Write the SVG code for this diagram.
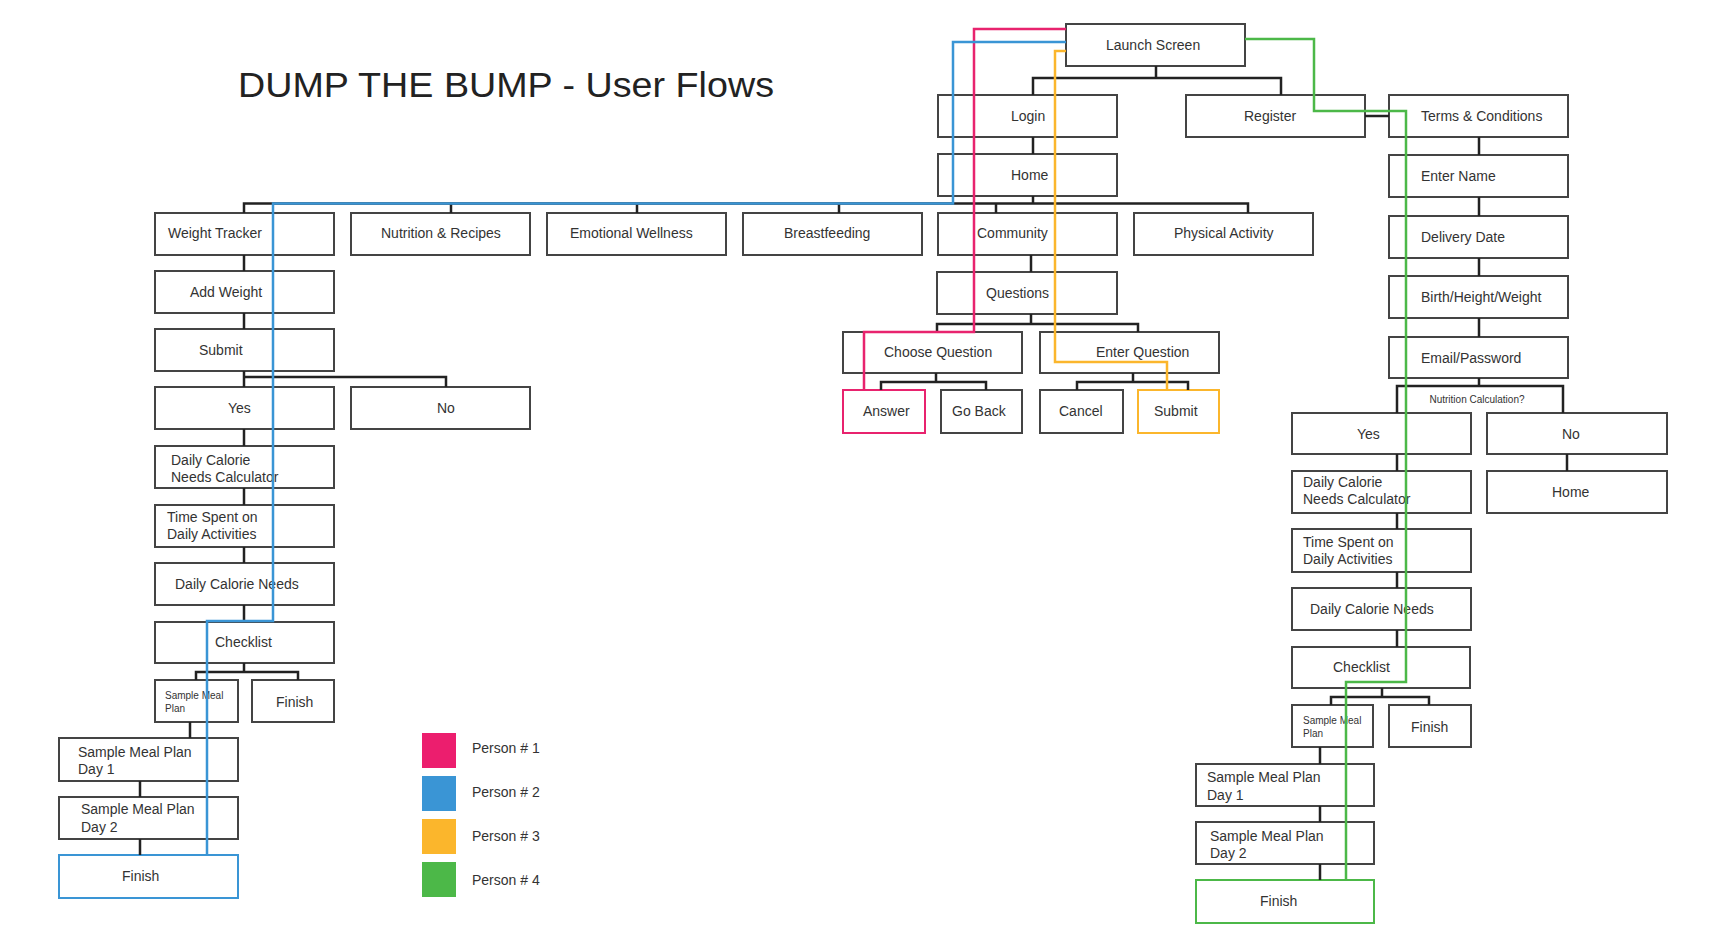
<svg xmlns="http://www.w3.org/2000/svg" width="1725" height="948" viewBox="0 0 1725 948">
<style>
.box{fill:#fff;stroke:#444;stroke-width:2}
.t{font-family:"Liberation Sans",Arial,sans-serif;font-size:14px;fill:#333}
.s{font-family:"Liberation Sans",Arial,sans-serif;font-size:10px;fill:#333}
.c{fill:none;stroke:#222;stroke-width:2.5}
.f{fill:none;stroke-width:2.5}
.p1{stroke:#e8236e}.p2{stroke:#3a95d5}.p3{stroke:#fbb62c}.p4{stroke:#4cb848}
</style>
<rect width="1725" height="948" fill="#fff"/>
<text x="238" y="97" font-family="Liberation Sans,Arial,sans-serif" font-size="35" fill="#222" textLength="536" lengthAdjust="spacingAndGlyphs">DUMP THE BUMP - User Flows</text>

<g id="nodes">
<g id="launch"><rect class="box" x="1066" y="24" width="179" height="42"/><text class="t" x="1106" y="50">Launch Screen</text></g>
<g id="login"><rect class="box" x="938" y="95" width="179" height="42"/><text class="t" x="1011" y="121">Login</text></g>
<g id="register"><rect class="box" x="1186" y="95" width="179" height="42"/><text class="t" x="1244" y="121">Register</text></g>
<g id="home"><rect class="box" x="938" y="154" width="179" height="42"/><text class="t" x="1011" y="180">Home</text></g>
<g id="weight"><rect class="box" x="155" y="213" width="179" height="42"/><text class="t" x="168" y="238">Weight Tracker</text></g>
<g id="nutrition"><rect class="box" x="351" y="213" width="179" height="42"/><text class="t" x="381" y="238">Nutrition &amp; Recipes</text></g>
<g id="emotional"><rect class="box" x="547" y="213" width="179" height="42"/><text class="t" x="570" y="238">Emotional Wellness</text></g>
<g id="breast"><rect class="box" x="743" y="213" width="179" height="42"/><text class="t" x="784" y="238">Breastfeeding</text></g>
<g id="community"><rect class="box" x="938" y="213" width="179" height="42"/><text class="t" x="977" y="238">Community</text></g>
<g id="physical"><rect class="box" x="1134" y="213" width="179" height="42"/><text class="t" x="1174" y="238">Physical Activity</text></g>
<g id="questions"><rect class="box" x="937" y="272" width="180" height="42"/><text class="t" x="986" y="298">Questions</text></g>
<g id="choose"><rect class="box" x="843" y="332" width="179" height="41"/><text class="t" x="884" y="357">Choose Question</text></g>
<g id="enterq"><rect class="box" x="1040" y="332" width="179" height="41"/><text class="t" x="1096" y="357">Enter Question</text></g>
<g id="answer"><rect class="box p1" x="843" y="390" width="82" height="43"/><text class="t" x="863" y="416">Answer</text></g>
<g id="goback"><rect class="box" x="941" y="390" width="81" height="43"/><text class="t" x="952" y="416">Go Back</text></g>
<g id="cancel"><rect class="box" x="1040" y="390" width="83" height="43"/><text class="t" x="1059" y="416">Cancel</text></g>
<g id="submitq"><rect class="box p3" x="1138" y="390" width="81" height="43"/><text class="t" x="1154" y="416">Submit</text></g>

<g id="addweight"><rect class="box" x="155" y="271" width="179" height="42"/><text class="t" x="190" y="297">Add Weight</text></g>
<g id="submitw"><rect class="box" x="155" y="329" width="179" height="42"/><text class="t" x="199" y="355">Submit</text></g>
<g id="yesL"><rect class="box" x="155" y="387" width="179" height="42"/><text class="t" x="228" y="413">Yes</text></g>
<g id="noL"><rect class="box" x="351" y="387" width="179" height="42"/><text class="t" x="437" y="413">No</text></g>
<g id="dcncL"><rect class="box" x="155" y="446" width="179" height="42"/><text class="t" x="171" y="465">Daily Calorie</text><text class="t" x="171" y="482">Needs Calculator</text></g>
<g id="timeL"><rect class="box" x="155" y="505" width="179" height="42"/><text class="t" x="167" y="522">Time Spent on</text><text class="t" x="167" y="539">Daily Activities</text></g>
<g id="dcnL"><rect class="box" x="155" y="563" width="179" height="42"/><text class="t" x="175" y="589">Daily Calorie Needs</text></g>
<g id="checkL"><rect class="box" x="155" y="622" width="179" height="41"/><text class="t" x="215" y="647">Checklist</text></g>
<g id="smpL"><rect class="box" x="155" y="680" width="83" height="42"/><text class="s" x="165" y="699">Sample Meal</text><text class="s" x="165" y="712">Plan</text></g>
<g id="finishSmallL"><rect class="box" x="252" y="680" width="82" height="42"/><text class="t" x="276" y="707">Finish</text></g>
<g id="day1L"><rect class="box" x="59" y="738" width="179" height="43"/><text class="t" x="78" y="757">Sample Meal Plan</text><text class="t" x="78" y="774">Day 1</text></g>
<g id="day2L"><rect class="box" x="59" y="797" width="179" height="42"/><text class="t" x="81" y="814">Sample Meal Plan</text><text class="t" x="81" y="832">Day 2</text></g>
<g id="finishL"><rect class="box p2" x="59" y="855" width="179" height="43"/><text class="t" x="122" y="881">Finish</text></g>

<g id="terms"><rect class="box" x="1389" y="95" width="179" height="42"/><text class="t" x="1421" y="121">Terms &amp; Conditions</text></g>
<g id="name"><rect class="box" x="1389" y="155" width="179" height="42"/><text class="t" x="1421" y="181">Enter Name</text></g>
<g id="delivery"><rect class="box" x="1389" y="216" width="179" height="42"/><text class="t" x="1421" y="242">Delivery Date</text></g>
<g id="birth"><rect class="box" x="1389" y="276" width="179" height="42"/><text class="t" x="1421" y="302">Birth/Height/Weight</text></g>
<g id="email"><rect class="box" x="1389" y="337" width="179" height="41"/><text class="t" x="1421" y="363">Email/Password</text></g>
<g id="yesR"><rect class="box" x="1292" y="413" width="179" height="41"/><text class="t" x="1357" y="439">Yes</text></g>
<g id="noR"><rect class="box" x="1487" y="413" width="180" height="41"/><text class="t" x="1562" y="439">No</text></g>
<g id="dcncR"><rect class="box" x="1292" y="471" width="179" height="42"/><text class="t" x="1303" y="487">Daily Calorie</text><text class="t" x="1303" y="504">Needs Calculator</text></g>
<g id="homeR"><rect class="box" x="1487" y="471" width="180" height="42"/><text class="t" x="1552" y="497">Home</text></g>
<g id="timeR"><rect class="box" x="1292" y="529" width="179" height="43"/><text class="t" x="1303" y="547">Time Spent on</text><text class="t" x="1303" y="564">Daily Activities</text></g>
<g id="dcnR"><rect class="box" x="1292" y="588" width="179" height="42"/><text class="t" x="1310" y="614">Daily Calorie Needs</text></g>
<g id="checkR"><rect class="box" x="1292" y="647" width="178" height="41"/><text class="t" x="1333" y="672">Checklist</text></g>
<g id="smpR"><rect class="box" x="1292" y="705" width="81" height="42"/><text class="s" x="1303" y="724">Sample Meal</text><text class="s" x="1303" y="737">Plan</text></g>
<g id="finishSmallR"><rect class="box" x="1389" y="705" width="82" height="42"/><text class="t" x="1411" y="732">Finish</text></g>
<g id="day1R"><rect class="box" x="1196" y="764" width="178" height="42"/><text class="t" x="1207" y="782">Sample Meal Plan</text><text class="t" x="1207" y="800">Day 1</text></g>
<g id="day2R"><rect class="box" x="1196" y="822" width="178" height="42"/><text class="t" x="1210" y="841">Sample Meal Plan</text><text class="t" x="1210" y="858">Day 2</text></g>
<g id="finishR"><rect class="box p4" x="1196" y="880" width="178" height="43"/><text class="t" x="1260" y="906">Finish</text></g>
</g>

<g id="connectors">
<path class="c" d="M1156 66V78M1033 95V78H1281V95M1033 137V154M1033 196V203.5M244 213V203.5H1248V213M451 203.5V213M637 203.5V213M839 203.5V213M996 203.5V213"/>
<path class="c" d="M1031 255V272M1031 314V324M937 332V324H1138V332M936 373V382M881 390V382H986V390M1133 373V382M1077 390V382H1188V390"/>
<path class="c" d="M244 255V271M244 313V329M244 371V387M244 377H446V387M244 429V446M244 488V505M244 547V563M244 605V622M244 663V672M196 680V672H298V680M190 722V738M140 781V797M140 839V855"/>
<path class="c" d="M1365 116H1389" stroke-width="3.5"/>
<path class="c" d="M1479 137V155M1479 197V216M1479 258V276M1479 318V337M1479 378V386M1397 413V386H1563V413"/>
<text class="s" x="1477" y="402.5" text-anchor="middle" font-size="10">Nutrition Calculation?</text>
<path class="c" d="M1397 454V471M1567 454V471M1397 513V529M1397 572V588M1397 630V647M1382 688V697M1331 705V697H1429V705M1320 747V764M1320 806V822M1320 864V880"/>
<path class="f p1" d="M1066 29H974V332H864V390"/>
<path class="f p2" d="M1066 42H953V203.5H273V621H207V855"/>
<path class="f p3" d="M1066 51H1055V362H1167V390"/>
<path class="f p4" d="M1245 39H1314V111H1406V682H1346V880"/>
</g>

<g id="legend">
<rect x="422" y="733" width="34" height="35" fill="#ec1e6e"/>
<rect x="422" y="776" width="34" height="35" fill="#3a95d5"/>
<rect x="422" y="819" width="34" height="35" fill="#fbb62c"/>
<rect x="422" y="862" width="34" height="35" fill="#4cb848"/>
<text class="t" x="472" y="753" font-size="13.5">Person # 1</text>
<text class="t" x="472" y="797" font-size="13.5">Person # 2</text>
<text class="t" x="472" y="841" font-size="13.5">Person # 3</text>
<text class="t" x="472" y="885" font-size="13.5">Person # 4</text>
</g>
</svg>
